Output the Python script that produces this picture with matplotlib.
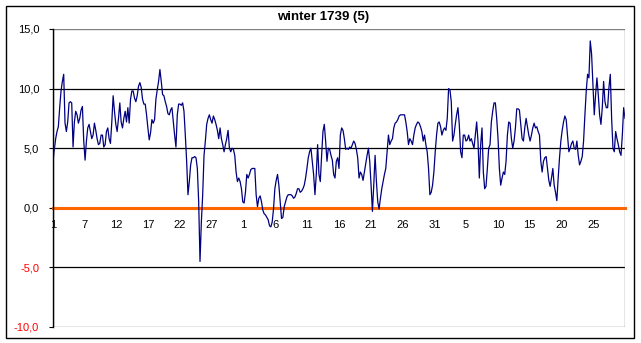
import numpy as np
import matplotlib
matplotlib.use("Agg")
import matplotlib.pyplot as plt
from matplotlib.patches import Rectangle
from matplotlib.ticker import FixedLocator

plt.rcParams['font.family'] = ['Liberation Sans', 'DejaVu Sans']

title = "winter 1739 (5)"

# day-of-month labels, one every five days (Dec -> Jan -> Feb)
tick_labels = ["1", "7", "12", "17", "22", "27", "1", "6", "11", "16",
               "21", "26", "31", "5", "10", "15", "20", "25"]

y_ticks = [-10, -5, 0, 5, 10, 15]

# temperature readings, in order
temperature = [
    3.9, 4.9, 5.8, 6.4, 6.8, 8.4, 9.8, 10.6, 11.2, 7.1, 6.4, 7.2, 8.8, 8.9, 8.8, 5.1,
    7.2, 8.1, 7.8, 7.1, 7.5, 8.2, 8.5, 5.6, 4.0, 5.6, 6.7, 7.0, 6.4, 5.8, 6.1, 7.1,
    6.5, 5.8, 5.3, 5.4, 6.1, 6.1, 5.1, 5.3, 6.4, 6.7, 5.8, 5.4, 7.2, 9.4, 8.1, 7.0,
    6.4, 7.5, 8.8, 7.2, 6.7, 7.5, 8.1, 7.2, 8.4, 7.1, 9.1, 9.8, 9.8, 9.2, 8.9, 9.4,
    10.2, 10.5, 10.1, 9.1, 8.7, 8.7, 7.8, 6.7, 5.7, 6.3, 7.4, 7.1, 7.4, 9.1, 9.9, 10.6,
    11.6, 10.6, 9.5, 9.4, 8.9, 8.5, 7.9, 7.8, 8.2, 8.4, 7.2, 6.1, 5.1, 7.8, 8.7, 8.7,
    8.6, 8.8, 8.1, 6.1, 3.9, 1.1, 2.2, 3.6, 4.2, 4.2, 4.3, 4.2, 3.3, 0.5, -4.5, -1.2,
    1.1, 4.4, 5.6, 7.0, 7.5, 7.8, 7.4, 7.1, 7.7, 7.4, 7.0, 6.5, 5.8, 6.7, 5.8, 5.3,
    4.7, 5.3, 5.8, 6.5, 5.0, 4.7, 5.0, 4.9, 4.4, 3.0, 2.2, 2.5,
    2.2, 1.6, 0.5, 0.4, 1.3, 2.8, 2.5, 2.8, 3.2, 3.3, 3.3, 3.3, 1.1, 0.1, 0.8, 1.0,
    0.5, -0.2, -0.5, -0.6, -0.8, -1.0, -1.5, -1.6, -1.2, -0.1, 1.6, 2.3, 2.8, 1.9, 0.5, -0.9,
    -0.8, 0.1, 0.5, 0.9, 1.1, 1.1, 1.1, 1.0, 0.8, 0.9, 1.2, 1.6, 1.6, 1.3, 1.4, 1.6,
    1.9, 2.5, 3.3, 4.2, 4.7, 5.0, 3.9, 2.8, 1.1, 2.8, 5.3, 2.8, 2.2, 4.4, 6.4, 7.0,
    5.6, 3.9, 5.0, 4.9, 4.4, 4.0, 2.8, 2.5, 3.9, 4.2, 3.3, 6.1, 6.7, 6.5, 5.8, 4.9,
    5.0, 4.9, 5.1, 5.0, 5.3, 5.6, 5.4, 4.9, 4.2, 2.5, 3.0, 2.8, 2.3, 3.0, 3.7, 4.4,
    5.0, 3.9, 1.9, -0.3, 1.9, 4.4, 2.2, 0.5, -0.1, 0.8, 1.6, 2.2, 2.8, 3.3, 4.7, 6.1,
    5.3, 5.6, 5.8, 6.7, 7.1, 7.2, 7.4, 7.7, 7.8, 7.8, 7.8, 7.8, 7.2, 6.4, 5.3, 5.8,
    5.6, 5.3, 6.1, 6.7, 7.0, 7.2, 7.1, 6.8, 6.4, 5.6, 6.1, 5.3, 4.7, 3.3,
    1.1, 1.3, 1.9, 3.0, 4.7, 6.1, 7.1, 7.2, 6.8, 6.1, 6.5, 6.7, 6.5, 7.5, 10.0, 9.9,
    8.9, 5.6, 6.1, 7.0, 7.8, 8.4, 7.0, 4.7, 4.2, 6.1, 6.1, 5.6, 5.7, 6.1, 5.6, 5.8,
    5.4, 5.0, 6.1, 7.2, 5.6, 2.5, 5.3, 6.7, 3.0, 1.6, 1.8, 3.3, 5.0, 5.3, 7.2, 8.1,
    8.8, 8.8, 7.5, 5.8, 3.3, 1.9, 2.5, 3.0, 2.8, 3.9, 6.1, 7.2, 7.1, 5.8, 5.0, 5.6,
    6.7, 8.3, 8.3, 8.2, 7.0, 5.8, 5.6, 6.7, 7.5, 6.8, 6.1, 5.6, 6.1, 6.7, 7.1, 6.7,
    6.8, 6.4, 6.1, 3.9, 3.0, 3.9, 4.2, 4.3, 3.3, 2.3, 1.8, 2.5, 3.3, 1.9, 1.3, 0.6,
    2.5, 4.2, 5.6, 6.5, 7.2, 7.7, 7.4, 6.1, 4.7, 5.0, 5.4, 5.6, 5.0, 4.9, 5.6, 4.4,
    3.6, 3.9, 4.3, 5.6, 7.8, 9.8, 11.2, 10.9, 14.0, 12.9, 10.3, 7.8, 9.5, 10.9, 9.5, 7.8,
    7.0, 8.4, 10.6, 8.9, 8.4, 8.4, 10.1, 11.2, 7.5, 5.0, 4.7, 6.4, 5.8, 5.3, 4.7, 4.4,
    6.1, 8.4, 7.5,
]

W, H = 641, 343
fig = plt.figure(figsize=(W / 100, H / 100), dpi=100)
fig.patch.set_facecolor("white")

# outer chart frame
fig.add_artist(Rectangle((5.5 / W, 1 - 337.5 / H), 628 / W, 332 / H,
                         transform=fig.transFigure, fill=False,
                         edgecolor="black", linewidth=1.0))

left, right, top, bottom = 53 / W, 625 / W, 29 / H, 327 / H
ax = fig.add_axes([left, 1 - bottom, right - left, bottom - top])

n_days = len(tick_labels) * 5
x = np.linspace(0, n_days, len(temperature))

# horizontal grid lines
for yv in y_ticks:
    if yv in (5, 10, -5):
        ax.axhline(yv, color="black", linewidth=0.9, zorder=1)

ax.plot(x, temperature, color="#000080", linewidth=0.9, zorder=3)

ax.set_xlim(0, n_days)
ax.set_ylim(-10, 15)

# plot-area border
ax.add_patch(Rectangle((0, 0), 1, 1, transform=ax.transAxes, fill=False,
                       edgecolor="#808080", linewidth=1.0, zorder=4))
for s in ("top", "right"):
    ax.spines[s].set_visible(False)
ax.spines["left"].set_color("black")
ax.spines["left"].set_linewidth(1.0)
ax.spines["left"].set_zorder(5)
ax.spines["bottom"].set_position(("data", 0))
ax.spines["bottom"].set_color("#FF6600")
ax.spines["bottom"].set_linewidth(2.2)
ax.spines["bottom"].set_zorder(2)

ax.yaxis.set_major_locator(FixedLocator(y_ticks))
ax.set_yticklabels([f"{v:.1f}".replace(".", ",") for v in y_ticks], fontsize=8)
ax.tick_params(axis="y", direction="out", length=3, width=0.8, pad=7, colors="black")
for lbl, v in zip(ax.get_yticklabels(), y_ticks):
    lbl.set_color("red" if v < 0 else "black")

ax.xaxis.set_major_locator(FixedLocator([i * 5 for i in range(len(tick_labels))]))
ax.set_xticklabels(tick_labels, fontsize=8)
ax.tick_params(axis="x", length=0, pad=9)

fig.text(323 / W, 1 - 17 / H, title, ha="center", va="center",
         fontsize=9.5, fontweight="bold")

fig.savefig("out.png", dpi=100, facecolor="white")
